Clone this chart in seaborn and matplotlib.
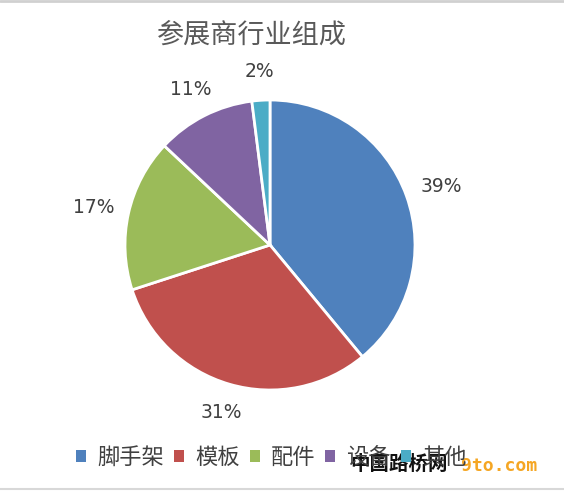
import matplotlib
matplotlib.use('Agg')
import numpy as np
import matplotlib.pyplot as plt
import seaborn as sns
from matplotlib.patches import Patch

categories = ['脚手架', '模板', '配件', '设备', '其他']
shares = [39, 31, 17, 11, 2]
colors = ['#4F81BD', '#C0504D', '#9BBB59', '#8064A2', '#4BACC6']

sns.set_theme(style='white')
plt.rcParams['font.family'] = ['Noto Sans CJK SC', 'DejaVu Sans']

fig = plt.figure(figsize=(5.64, 4.93), dpi=100)
ax = fig.add_axes([125 / 564, 103 / 493, 290 / 564, 290 / 493])

wedges, texts, autotexts = ax.pie(
    shares,
    colors=sns.color_palette(colors),
    startangle=90,
    counterclock=False,
    autopct='%1.0f%%',
    pctdistance=1.2,
    wedgeprops=dict(edgecolor='white', linewidth=2),
    textprops=dict(color='#404040', fontsize=13.5, family='DejaVu Sans'),
)
# labels on the sides hug the pie edge like Excel's outside-end labels
for w, t in zip(wedges, autotexts):
    ang = np.deg2rad((w.theta1 + w.theta2) / 2)
    c = np.cos(ang)
    if abs(c) > 0.5:
        x, y = t.get_position()
        t.set_position((1.1 * c, y))
        t.set_ha('left' if c > 0 else 'right')

ax.set_xlim(-1, 1)
ax.set_ylim(-1, 1)
ax.set_aspect('equal')

fig.text(0.446, 0.929, '参展商行业组成', ha='center', va='center',
         fontsize=19.5, color='#595959')

handles = [Patch(facecolor=c, edgecolor='none') for c in colors]
fig.legend(handles, categories, loc='center', bbox_to_anchor=(0.481, 0.073),
           ncol=5, frameon=False, fontsize=16, handlelength=0.45, handleheight=0.45,
           handletextpad=0.5, columnspacing=0.45, labelcolor='#404040')

# watermark
fig.text(0.708, 0.058, '中国路桥网', ha='center', va='center', fontsize=14,
         fontweight='bold', color='#111111')
fig.text(0.885, 0.055, '9to.com', ha='center', va='center', fontsize=13,
         fontweight='bold', color='#F5A623', family='DejaVu Sans Mono')

# sheet border lines
fig.add_artist(plt.Line2D([0, 1], [0.997, 0.997], color='#D0D0D0', lw=2))
fig.add_artist(plt.Line2D([0, 1], [0.008, 0.008], color='#D8D8D8', lw=1.5))

fig.savefig('out.png', dpi=100, facecolor='white')
